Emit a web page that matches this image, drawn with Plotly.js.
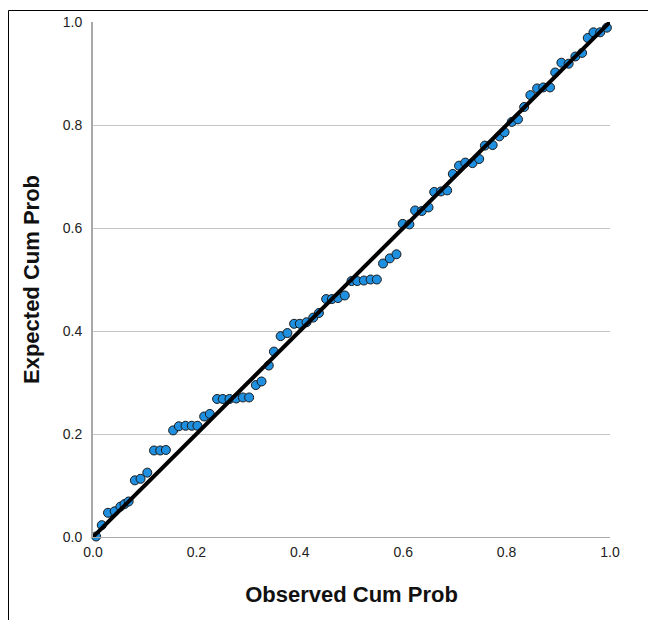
<!DOCTYPE html>
<html>
<head>
<meta charset="utf-8">
<script src="https://cdn.plot.ly/plotly-3.0.1.min.js"></script>
<style>html,body{margin:0;padding:0;background:#fff;}#chart{width:648px;height:620px;}</style>
</head>
<body>
<div id="chart"></div>
<script>
// Observed cumulative probability (x) and expected cumulative probability (y)
var observedCumProb = [0.006,0.017,0.029,0.042,0.053,0.061,0.069,0.081,0.092,0.105,
  0.118,0.130,0.141,0.155,0.166,0.179,0.191,0.202,0.215,0.226,
  0.240,0.251,0.264,0.277,0.290,0.302,0.315,0.326,0.340,0.350,
  0.363,0.376,0.389,0.400,0.413,0.426,0.437,0.451,0.462,0.474,
  0.487,0.500,0.511,0.524,0.537,0.549,0.561,0.574,0.587,0.599,
  0.612,0.623,0.636,0.649,0.660,0.673,0.685,0.696,0.708,0.720,
  0.734,0.747,0.758,0.773,0.786,0.796,0.810,0.822,0.834,0.846,
  0.859,0.871,0.884,0.894,0.906,0.920,0.933,0.946,0.957,0.968,
  0.981,0.994];
var expectedCumProb = [0.001,0.023,0.047,0.050,0.059,0.064,0.069,0.110,0.113,0.125,
  0.168,0.168,0.169,0.207,0.215,0.216,0.216,0.216,0.234,0.239,
  0.268,0.268,0.268,0.269,0.271,0.271,0.295,0.302,0.333,0.360,
  0.390,0.396,0.414,0.414,0.417,0.426,0.435,0.462,0.462,0.464,
  0.469,0.497,0.497,0.498,0.500,0.500,0.531,0.541,0.549,0.608,
  0.607,0.634,0.633,0.640,0.670,0.671,0.673,0.705,0.721,0.727,
  0.726,0.734,0.760,0.761,0.778,0.786,0.806,0.811,0.835,0.858,
  0.871,0.873,0.873,0.902,0.921,0.919,0.933,0.940,0.969,0.980,
  0.980,0.989];
var refLineX = [0, 1];
var refLineY = [0, 1];
var tickValues = [0, 0.2, 0.4, 0.6, 0.8, 1.0];
var tickLabels = ["0.0", "0.2", "0.4", "0.6", "0.8", "1.0"];

var L = 93, T = 22, W = 517, H = 515;
function px2x(p){ return (p - L) / W; }
function py2y(p){ return (T + H - p) / H; }

var traces = [
  {
    x: observedCumProb, y: expectedCumProb, type: 'scatter', mode: 'markers',
    marker: {size: 9, color: '#1f8fe0', line: {color: '#1a1a1a', width: 1}},
    hoverinfo: 'x+y', showlegend: false, cliponaxis: false
  },
  {
    x: refLineX, y: refLineY, type: 'scatter', mode: 'lines',
    line: {color: '#000000', width: 4}, showlegend: false, cliponaxis: false
  }
];

var layout = {
  width: 648, height: 620,
  margin: {l: L, r: 648 - L - W, t: T, b: 620 - T - H, pad: 0},
  paper_bgcolor: '#ffffff', plot_bgcolor: '#ffffff',
  font: {family: '"Liberation Sans", Arial, sans-serif', color: '#222222'},
  xaxis: {
    range: [0, 1], tickvals: tickValues, ticktext: tickLabels,
    showgrid: false, zeroline: false, showline: true, linecolor: '#a8a8a8', linewidth: 1,
    ticks: '', tickfont: {size: 14, color: '#222222'}, ticklabelstandoff: 2,
    title: {text: 'Observed Cum Prob', font: {size: 22, color: '#111111', weight: 'bold'}, standoff: 27},
    fixedrange: true
  },
  yaxis: {
    range: [0, 1], tickvals: tickValues, ticktext: tickLabels,
    showgrid: true, gridcolor: '#c4c4c4', gridwidth: 1,
    zeroline: false, showline: true, linecolor: '#a8a8a8', linewidth: 2,
    ticks: '', tickfont: {size: 14, color: '#222222'}, ticklabelstandoff: 6,
    title: {text: 'Expected Cum Prob', font: {size: 22, color: '#111111', weight: 'bold'}, standoff: 17},
    fixedrange: true
  },
  shapes: [
    {type: 'line', xref: 'paper', yref: 'paper', x0: px2x(8.5), x1: px2x(8.5), y0: py2y(10.5), y1: py2y(625), line: {color: '#000', width: 1}},
    {type: 'line', xref: 'paper', yref: 'paper', x0: px2x(8.5), x1: px2x(660), y0: py2y(10.5), y1: py2y(10.5), line: {color: '#000', width: 1}}
  ]
};

Plotly.newPlot('chart', traces, layout, {displayModeBar: false, staticPlot: true});
</script>
</body>
</html>
